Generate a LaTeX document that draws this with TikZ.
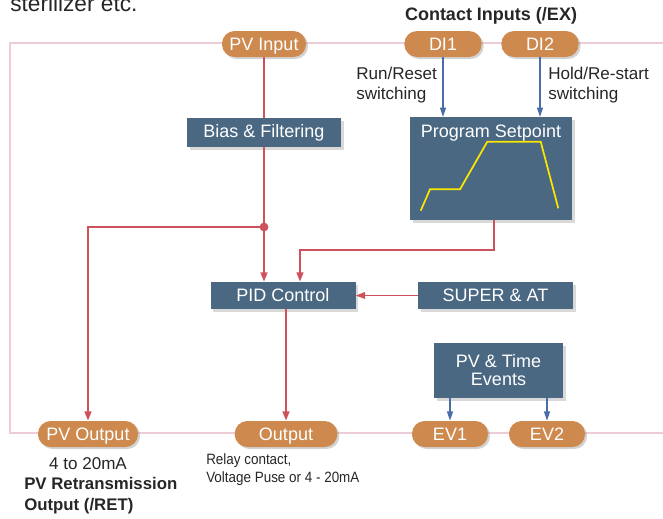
\documentclass[tikz,border=0pt]{standalone}
\usepackage{fontspec}
\setmainfont{Liberation Sans}
\usetikzlibrary{arrows.meta, positioning, shadows}

\definecolor{pillorange}{RGB}{205,137,78}
\definecolor{boxblue}{RGB}{74,104,130}
\definecolor{linkred}{RGB}{206,82,92}
\definecolor{evblue}{RGB}{72,110,168}
\definecolor{framepink}{RGB}{236,204,214}
\definecolor{curveyellow}{RGB}{250,230,0}

\tikzset{
  pill/.style={draw=none, fill=pillorange, text=white, rounded corners=9.5pt,
    minimum height=19.5pt, inner sep=1pt, text height=9.7pt, text depth=0pt,
    font=\fontsize{13.5}{15}\selectfont,
    drop shadow={shadow xshift=1.5pt, shadow yshift=-1.5pt, opacity=0.35}},
  block/.style={draw=none, fill=boxblue, text=white, inner sep=2pt,
    font=\fontsize{13.5}{15}\selectfont,
    drop shadow={shadow xshift=2pt, shadow yshift=-2pt, opacity=0.3}},
  redlink/.style={draw=linkred, line width=1.6pt, -{Triangle[length=7pt,width=5pt]}},
  bluelink/.style={draw=evblue, line width=1pt, -{Triangle[length=7pt,width=4.5pt]}},
  note/.style={align=left, inner sep=0pt, text=black!85, font=\fontsize{12.8}{15}\selectfont}
}

\begin{document}
\begin{tikzpicture}[x=0.75pt, y=-0.75pt]
\useasboundingbox (0,0) rectangle (663,518);

% cut-off text at the top
\node[anchor=base west, inner sep=0pt, font=\fontsize{17}{19}\selectfont, text=black!85] (top) at (10,11) {sterilizer etc.};

% frame
\draw[framepink, line width=2.2pt] (663,43) -- (10,43) -- (10,433) -- (663,433);

% inputs
\node[pill, minimum width=63pt] (pvin) at (264,44) {PV Input};
\node[pill, minimum width=58pt] (di1) at (443,44) {DI1};
\node[pill, minimum width=58pt] (di2) at (540,44) {DI2};
\node[font=\bfseries\fontsize{13.5}{15}\selectfont, text=black!85] (contact) at (491,16) {Contact Inputs (/EX)};
\node[note, anchor=north west] (runreset) at (356,67) {Run/Reset\\switching};
\node[note, anchor=north west] (holdre) at (548,67) {Hold/Re-start\\switching};

% blocks
\node[block, minimum width=115.5pt, minimum height=21.75pt] (bias) at (264,132.5) {Bias \& Filtering};
\node[block, minimum width=121.5pt, minimum height=77pt, text depth=57pt] (prog) at (491,168.5) {Program Setpoint};
\draw[curveyellow, line width=1.3pt] (420.7,210.7) -- (430,189.3) -- (460,189.3) -- (487.3,141.7) -- (540.7,141.7) -- (558.3,208.3);
\node[block, minimum width=108.75pt, minimum height=20.25pt] (pid) at (283,295.5) {PID Control};
\node[block, minimum width=116.25pt, minimum height=20.25pt] (super) at (495.5,295.5) {SUPER \& AT};
\node[block, minimum width=96.75pt, minimum height=41.25pt, align=center, font=\fontsize{13.5}{13.5}\selectfont] (events) at (498.5,370.5) {PV \& Time\\Events};

% outputs
\node[pill, minimum width=75pt] (pvout) at (88,434) {PV Output};
\node[pill, minimum width=77pt] (out) at (286,434) {Output};
\node[pill, minimum width=57pt] (ev1) at (450,434) {EV1};
\node[pill, minimum width=57pt] (ev2) at (547,434) {EV2};

\node[font=\fontsize{12.8}{14}\selectfont, text=black!85] (range) at (88,464) {4 to 20mA};
\node[note, anchor=north west, font=\bfseries\fontsize{12.6}{15.75}\selectfont] (retrans) at (24,477) {PV Retransmission\\Output (/RET)};
\node[note, anchor=north west, font=\addfontfeature{FakeStretch=0.9}\fontsize{11.2}{13.5}\selectfont] (relay) at (206,453) {Relay contact,\\Voltage Puse or 4 - 20mA};

% connections
\coordinate (split) at (264,227);
\draw[linkred, line width=1.6pt] (pvin) -- (bias);
\draw[redlink] (bias) -- (pid.north -| split);
\fill[linkred] (split) circle (3.3pt);
\draw[redlink] (split) -| (pvout);
\draw[redlink] (prog.south -| 494,0) |- (300,250) -- (pid.north -| 300,0);
\draw[redlink, line width=1.2pt] (super) -- (pid);
\draw[redlink] (pid.south -| out) -- (out);

\draw[bluelink] (di1) -- (prog.north -| di1);
\draw[bluelink] (di2) -- (prog.north -| di2);
\draw[bluelink] (events.south -| ev1) -- (ev1);
\draw[bluelink] (events.south -| ev2) -- (ev2);
\end{tikzpicture}
\end{document}
